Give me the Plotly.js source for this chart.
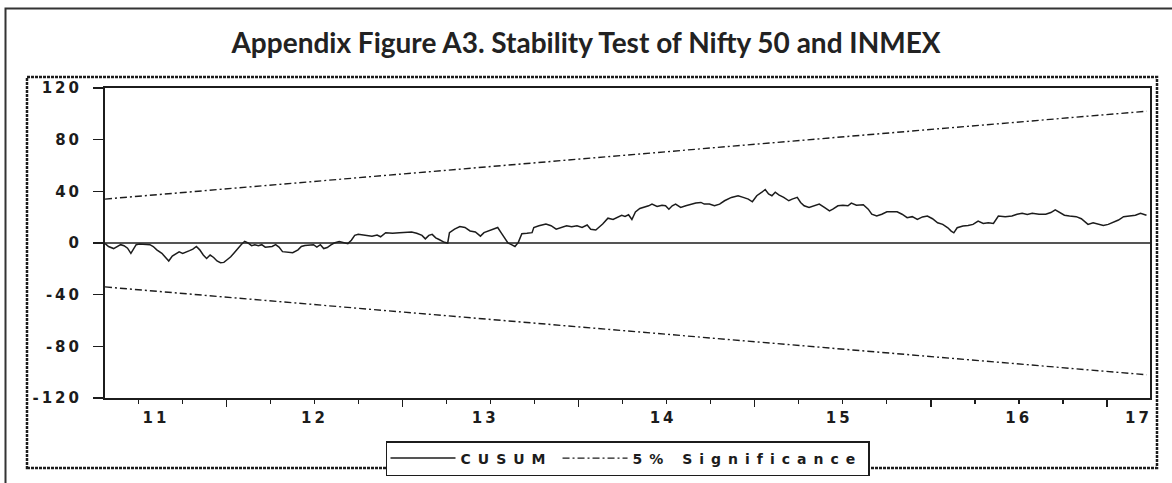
<!DOCTYPE html>
<html>
<head>
<meta charset="utf-8">
<script src="https://cdn.plot.ly/plotly-3.0.1.min.js"></script>
<style>
  html, body { margin: 0; padding: 0; background: #fff; }
  #chart { width: 1172px; height: 483px; }
  .ytick text, .x2tick text { letter-spacing: 3px; }
  text.legendtext { letter-spacing: 7px; }
</style>
</head>
<body>
<div id="chart"></div>
<script>
// ---- data ----
const cusumYear = [
  2011.312, 2011.331, 2011.360, 2011.380, 2011.400, 2011.419, 2011.439, 2011.458, 2011.474, 2011.488,
  2011.507, 2011.536, 2011.566, 2011.585, 2011.605, 2011.634, 2011.664, 2011.673, 2011.693, 2011.712,
  2011.732, 2011.752, 2011.771, 2011.791, 2011.810, 2011.830, 2011.849, 2011.869, 2011.888, 2011.908,
  2011.928, 2011.947, 2011.967, 2011.986, 2012.006, 2012.025, 2012.045, 2012.064, 2012.084, 2012.104,
  2012.123, 2012.143, 2012.162, 2012.182, 2012.201, 2012.221, 2012.240, 2012.260, 2012.280, 2012.299,
  2012.319, 2012.348, 2012.377, 2012.407, 2012.426, 2012.446, 2012.475, 2012.495, 2012.514, 2012.534,
  2012.553, 2012.573, 2012.592, 2012.612, 2012.641, 2012.671, 2012.690, 2012.710, 2012.729, 2012.749,
  2012.788, 2012.827, 2012.856, 2012.876, 2012.905, 2012.944, 2012.983, 2013.023, 2013.052, 2013.081,
  2013.111, 2013.130, 2013.150, 2013.169, 2013.189, 2013.208, 2013.228, 2013.238, 2013.257, 2013.267,
  2013.296, 2013.326, 2013.355, 2013.384, 2013.414, 2013.443, 2013.463, 2013.492, 2013.521, 2013.541,
  2013.560, 2013.580, 2013.599, 2013.619, 2013.639, 2013.658, 2013.678, 2013.707, 2013.736, 2013.746,
  2013.775, 2013.815, 2013.844, 2013.873, 2013.903, 2013.932, 2013.961, 2013.991, 2014.020, 2014.049,
  2014.069, 2014.098, 2014.137, 2014.167, 2014.196, 2014.225, 2014.245, 2014.264, 2014.284, 2014.303,
  2014.323, 2014.348, 2014.369, 2014.398, 2014.417, 2014.446, 2014.474, 2014.494, 2014.513, 2014.532,
  2014.551, 2014.580, 2014.609, 2014.638, 2014.666, 2014.695, 2014.714, 2014.743, 2014.772, 2014.801,
  2014.829, 2014.868, 2014.906, 2014.935, 2014.964, 2014.987, 2015.012, 2015.041, 2015.060, 2015.079,
  2015.098, 2015.117, 2015.137, 2015.165, 2015.194, 2015.213, 2015.242, 2015.261, 2015.281, 2015.309,
  2015.338, 2015.367, 2015.396, 2015.425, 2015.444, 2015.473, 2015.501, 2015.530, 2015.549, 2015.578,
  2015.617, 2015.645, 2015.665, 2015.693, 2015.722, 2015.751, 2015.780, 2015.809, 2015.837, 2015.866,
  2015.895, 2015.924, 2015.953, 2015.981, 2016.010, 2016.039, 2016.068, 2016.097, 2016.116, 2016.131,
  2016.150, 2016.183, 2016.212, 2016.240, 2016.269, 2016.298, 2016.327, 2016.356, 2016.384, 2016.423,
  2016.461, 2016.490, 2016.519, 2016.548, 2016.576, 2016.615, 2016.653, 2016.682, 2016.707, 2016.730,
  2016.759, 2016.788, 2016.826, 2016.855, 2016.874, 2016.893, 2016.922, 2016.951, 2016.980, 2017.008,
  2017.037, 2017.066, 2017.095, 2017.133, 2017.162, 2017.191, 2017.210, 2017.225
];
const cusumValue = [
  -0.5, -2.7, -4.3, -2.7, -1.3, -2.1, -4.0, -8.0, -4.3, -1.3,
  -0.8, -0.8, -1.3, -2.7, -5.3, -8.0, -12.0, -13.9, -10.1, -8.5,
  -6.9, -8.0, -6.7, -5.9, -4.8, -2.7, -5.3, -9.3, -12.0, -9.3,
  -11.2, -13.9, -15.2, -15.0, -12.8, -10.7, -7.5, -4.3, -1.3, 1.3,
  0.0, -2.1, -1.3, -2.1, -1.3, -3.2, -2.7, -2.7, -1.3, -3.2,
  -6.7, -7.2, -7.5, -5.3, -2.7, -1.9, -1.6, -1.3, -3.2, -1.3,
  -4.3, -3.5, -1.6, 0.0, 1.1, 0.0, -0.5, 2.1, 5.9, 6.7,
  5.9, 5.3, 6.1, 4.8, 8.0, 7.5, 8.0, 8.5, 8.5, 7.5,
  5.9, 3.2, 5.9, 6.7, 4.0, 2.7, 1.3, 0.5, 0.0, 8.0,
  10.7, 12.8, 12.0, 9.3, 8.5, 5.3, 8.0, 9.3, 11.2, 12.0,
  8.0, 4.0, 0.0, -1.3, -2.7, 0.5, 7.2, 7.5, 8.0, 12.0,
  13.4, 14.7, 13.4, 10.7, 12.0, 13.4, 12.6, 13.4, 12.0, 13.9,
  10.7, 10.1, 14.7, 19.2, 18.2, 20.0, 21.4, 20.6, 21.9, 18.2,
  24.0, 26.7, 27.5, 28.8, 30.1, 28.3, 29.3, 28.8, 26.2, 28.8,
  30.1, 27.5, 28.8, 30.1, 30.9, 31.4, 30.1, 30.1, 28.8, 30.1,
  32.7, 35.3, 36.6, 35.3, 34.0, 31.9, 36.6, 39.3, 41.4, 38.0,
  36.6, 39.3, 37.2, 35.3, 32.7, 34.0, 35.3, 31.4, 28.8, 27.5,
  28.8, 30.1, 27.5, 24.9, 26.2, 28.8, 29.3, 28.8, 30.9, 29.3,
  29.6, 26.2, 22.3, 20.9, 22.3, 24.1, 24.1, 24.1, 22.3, 19.6,
  20.4, 18.3, 20.2, 20.9, 18.8, 15.7, 14.4, 11.8, 9.2, 7.9,
  11.8, 13.1, 13.6, 14.4, 17.0, 15.2, 15.7, 15.2, 20.9, 20.4,
  20.9, 22.3, 23.0, 22.0, 23.0, 22.3, 22.3, 23.6, 25.7, 23.6,
  21.5, 20.9, 20.4, 18.8, 16.2, 14.4, 15.7, 14.4, 13.6, 14.4,
  16.2, 17.8, 20.4, 20.9, 21.5, 23.0, 22.3, 21.5
];
const boundYear = [2011.311, 2017.225];
const upperBound = [34, 102];
const lowerBound = [-34, -102];

const yearLabels = ['11', '12', '13', '14', '15', '16', '17'];
const yearLabelAt = [2011.60, 2012.50, 2013.47, 2014.48, 2015.48, 2016.50, 2017.18];
const quarterTicks = [2011.5, 2011.75, 2012.25, 2012.5, 2012.75, 2013.25, 2013.5, 2013.75,
  2014.25, 2014.5, 2014.75, 2015.25, 2015.5, 2015.75, 2016.25, 2016.5, 2016.75];
const yearTicks = [2012, 2013, 2014, 2015, 2016, 2017];
const yTicks = [-120, -80, -40, 0, 40, 80, 120];
const yTickText = ['-120', '-80', '-40', '0', '40', '80', '120'];

// ---- layout helpers ----
const W = 1172, H = 483;
const M = { l: 105, r: 22, t: 88, b: 85, autoexpand: false };
const PW = W - M.l - M.r, PH = H - M.t - M.b;
const px2x = p => (p - M.l) / PW;
const px2y = p => (H - M.b - p) / PH;
const INK = '#1c1c1c';
const XR = [2011.311, 2017.245];

const traces = [
  {
    x: cusumYear, y: cusumValue, type: 'scatter', mode: 'lines',
    name: 'CUSUM', line: { color: INK, width: 1.5 },
    xaxis: 'x', yaxis: 'y'
  },
  {
    x: boundYear, y: upperBound, type: 'scatter', mode: 'lines',
    name: '5% Significance', legendgroup: 'sig',
    line: { color: INK, width: 1.4, dash: '7px,3px,2px,3px' },
    xaxis: 'x', yaxis: 'y'
  },
  {
    x: boundYear, y: lowerBound, type: 'scatter', mode: 'lines',
    name: '5% Significance', legendgroup: 'sig', showlegend: false,
    line: { color: INK, width: 1.4, dash: '7px,3px,2px,3px' },
    xaxis: 'x2', yaxis: 'y'
  }
];

const tickFont = { family: 'DejaVu Sans', size: 15, color: INK, weight: 'bold' };

const layout = {
  width: W, height: H,
  margin: M,
  paper_bgcolor: '#fff', plot_bgcolor: '#fff',
  title: {
    text: 'Appendix Figure A3. Stability Test of Nifty 50 and INMEX',
    font: { family: 'Lato', size: 28, color: '#222', weight: 'bold' },
    x: 0.5, xanchor: 'center', xref: 'container',
    y: 1 - 43 / H, yanchor: 'middle', yref: 'container'
  },
  showlegend: true,
  legend: {
    orientation: 'h', x: 0.5, xanchor: 'center', xref: 'paper',
    y: px2y(441), yanchor: 'top', yref: 'paper',
    bgcolor: '#fff', bordercolor: INK, borderwidth: 1.5,
    font: { family: 'DejaVu Sans', size: 14, color: INK, weight: 'bold' },
    itemwidth: 65, tracegroupgap: 0
  },
  xaxis: {
    range: XR, showgrid: false, zeroline: false,
    showline: true, mirror: true, linecolor: INK, linewidth: 2,
    tickmode: 'array', tickvals: quarterTicks, ticktext: quarterTicks.map(() => ''),
    ticks: 'outside', ticklen: 4, tickwidth: 1.5, tickcolor: INK,
    showticklabels: false,
    minor: { tickmode: 'array', tickvals: yearTicks, ticks: 'outside', ticklen: 7, tickwidth: 1.5, tickcolor: INK, showgrid: false }
  },
  xaxis2: {
    matches: 'x', overlaying: 'x', anchor: 'y', side: 'bottom',
    range: XR, showgrid: false, zeroline: false, showline: false,
    tickmode: 'array', tickvals: yearLabelAt, ticktext: yearLabels,
    ticks: '', tickfont: tickFont, ticklabelstandoff: 9
  },
  yaxis: {
    range: [-120, 120], showgrid: false,
    zeroline: true, zerolinecolor: '#555', zerolinewidth: 2,
    showline: true, mirror: true, linecolor: INK, linewidth: 2,
    tickmode: 'array', tickvals: yTicks, ticktext: yTickText,
    ticks: 'outside', ticklen: 10, tickwidth: 1.5, tickcolor: INK,
    tickfont: tickFont, ticklabelstandoff: 8
  },
  shapes: [
    {
      type: 'path', xref: 'paper', yref: 'paper',
      path: `M ${px2x(5.5)},${px2y(483)} L ${px2x(5.5)},${px2y(8.5)} L ${px2x(1172)},${px2y(8.5)}`,
      line: { color: '#333', width: 2 }
    },
    {
      type: 'rect', xref: 'paper', yref: 'paper', layer: 'below',
      x0: px2x(27), y0: px2y(468), x1: px2x(1157), y1: px2y(77),
      line: { color: INK, width: 2.5, dash: '3px,1px' }
    }
  ]
};

Plotly.newPlot('chart', traces, layout, { staticPlot: true, displayModeBar: false });
</script>
</body>
</html>
